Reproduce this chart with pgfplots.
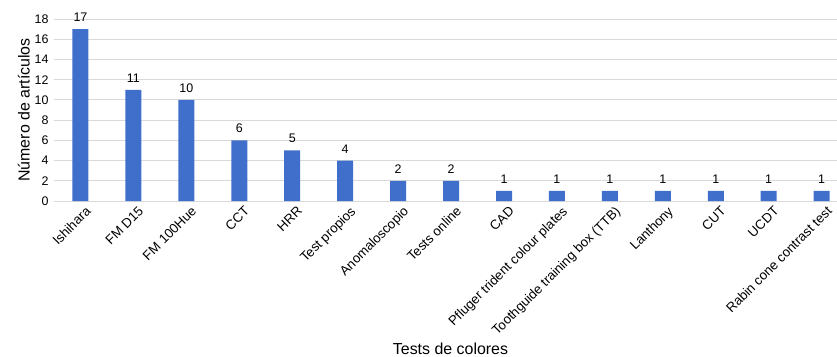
\documentclass[border=0pt]{standalone}
\usepackage{fontspec}
\setmainfont{Liberation Sans}
\usepackage{pgfplots}
\pgfplotsset{compat=1.18}
\usetikzlibrary{calc}
\definecolor{barblue}{HTML}{3F6FCB}
\definecolor{gridgray}{HTML}{D9D9D9}
\begin{document}
\begin{tikzpicture}
\begin{axis}[name=ax, scale only axis, width=783bp, height=182bp,
  xmin=-0.5, xmax=14.29, ymin=0, ymax=18, ytick={0,2,...,18},
  xtick={0,...,14},
  xticklabels={Ishihara, FM D15, FM 100Hue, CCT, HRR, Test propios, Anomaloscopio, Tests online, CAD, Pfluger trident colour plates, Toothguide training box (TTB), Lanthony, CUT, UCDT, Rabin cone contrast test},
  x tick label style={rotate=45, anchor=north east, font=\fontsize{13.3}{15}\selectfont, inner sep=1bp, xshift=1bp, yshift=-5bp},
  y tick label style={font=\fontsize{12.5}{14}\selectfont, xshift=-2bp},
  axis line style={draw=none},
  ymajorgrids, grid style={gridgray, line width=0.8bp},
  major tick length=0,
  ybar, bar width=16bp,
  nodes near coords,
  nodes near coords style={font=\fontsize{12.5}{14}\selectfont, yshift=4bp},
  ylabel={Número de artículos},
  xlabel={Tests de colores},
  label style={font=\fontsize{16}{19}\selectfont},
  ylabel style={xshift=0bp, yshift=-2bp},
  xlabel style={xshift=5bp},
  /pgf/number format/assume math mode=true,
]
\addplot[fill=barblue, draw=none] coordinates {(0,17) (1,11) (2,10) (3,6) (4,5) (5,4) (6,2) (7,2) (8,1) (9,1) (10,1) (11,1) (12,1) (13,1) (14,1)};
\end{axis}
\pgfresetboundingbox
\path[use as bounding box] ($(ax.south west)+(-54bp,-156bp)$) rectangle ($(ax.north east)+(0,19bp)$);
\end{tikzpicture}
\end{document}
